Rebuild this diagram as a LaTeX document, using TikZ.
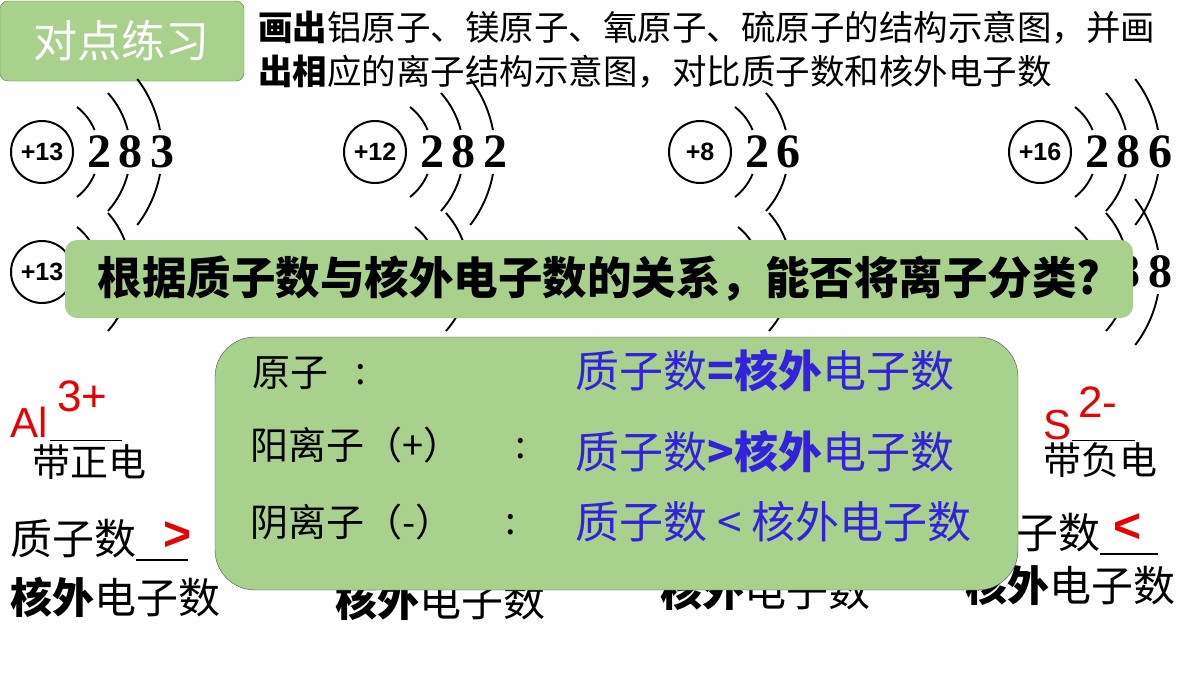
\documentclass[tikz,border=0pt]{standalone}
\usepackage{fontspec}
\setmainfont{Noto Sans CJK SC}
\newfontfamily\numfont{Liberation Serif}
\newfontfamily\latin{Liberation Sans}
\usetikzlibrary{calc}
\definecolor{boxgreen}{RGB}{169,209,142}
\definecolor{edgegreen}{RGB}{84,130,53}
\definecolor{inkblue}{RGB}{51,34,221}
\definecolor{ionred}{RGB}{230,0,0}
\newcommand{\fs}[1]{\fontsize{#1}{#1}\selectfont}
\newcommand{\atomsketch}[4]{% name, position, charge, shells
  \node[nucleus] (#1) at (#2) {#3};
  \foreach \d [count=\i] in {#4} {
    \pgfmathsetmacro{\R}{57+31.5*(\i-1)}
    \pgfmathsetmacro{\up}{asin((45+14*(\i-1))/\R)}
    \pgfmathsetmacro{\gap}{asin(22/\R)}
    \draw[shell] (#1.center) ++(\up:\R) arc (\up:\gap:\R);
    \draw[shell] (#1.center) ++(-\gap:\R) arc (-\gap:-\up:\R);
    \node[digit] (#1-\i) at ($(#1.center)+(\R,0)$) {\d};
  }}
\tikzset{
  nucleus/.style={circle,draw,line width=2pt,minimum size=62pt,inner sep=0pt,font=\latin\bfseries\fs{25}},
  shell/.style={line width=1.9pt},
  digit/.style={inner sep=0pt,font=\numfont\bfseries\fs{48}},
  plain/.style={anchor=west,inner sep=0pt,font=\fs{42}},
}
\begin{document}
\begin{tikzpicture}[x=1pt,y=-1pt]
\useasboundingbox (0,0) rectangle (1200,675);

% heading
\node[draw=edgegreen,fill=boxgreen,rounded corners=8pt,minimum width=244pt,minimum height=80pt,
  font=\fs{44},text=white] (title) at (122,41) {对点练习};
\node[plain,font=\fs{34.5}] (task1) at (258,28) {\textbf{画出}铝原子、镁原子、氧原子、硫原子的结构示意图，并画};
\node[plain,font=\fs{34.5}] (task2) at (258,72) {\textbf{出相}应的离子结构示意图，对比质子数和核外电子数};

% atoms
\atomsketch{Al}{42,152}{+13}{2,8,3}
\atomsketch{Mg}{375,152}{+12}{2,8,2}
\atomsketch{O}{700,152}{+8}{2,6}
\atomsketch{S}{1040,152}{+16}{2,8,6}

% ions
\atomsketch{Alion}{42,272}{+13}{2,8}
\atomsketch{Mgion}{380,272}{+12}{2,8}
\atomsketch{Oion}{703,272}{+8}{2,8}
\atomsketch{Sion}{1040,272}{+16}{2,8,8}

% left column
\node[plain,text=ionred,font=\latin\fs{42}] (Al3) at (10,422) {Al};
\node[anchor=west,inner sep=0pt,text=ionred,font=\latin\fs{44}] (Alsup) at (57,396) {3+};
\draw[thick] (50,440) -- (122,440);
\node[plain,font=\fs{38}] (Alcharge) at (32,462) {带正电};
\node[plain] (Alp) at (10,540) {质子数\rule[-6pt]{52pt}{1.2pt}};
\node[anchor=west,inner sep=0pt,text=ionred,font=\latin\bfseries\fs{48}] (Algt) at (163,536) {>};
\node[plain] (Ale) at (10,597) {\textbf{核外}电子数};

% hidden columns
\node[plain] (Mge) at (335,600) {\textbf{核外}电子数};
\node[plain] (Oe) at (660,590) {\textbf{核外}电子数};

% right column
\node[plain,text=ionred,font=\latin\fs{42}] (S2) at (1043,425) {S};
\node[anchor=west,inner sep=0pt,text=ionred,font=\latin\fs{44}] (Ssup) at (1078,402) {2-};
\draw[thick] (1072,440) -- (1135,440);
\node[plain,font=\fs{38}] (Scharge) at (1043,460) {带负电};
\node[plain] (Sp) at (974,534) {质子数\rule[-6pt]{58pt}{1.2pt}};
\node[anchor=west,inner sep=0pt,text=ionred,font=\latin\bfseries\fs{48}] (Slt) at (1113,528) {<};
\node[plain] (Se) at (965,585) {\textbf{核外}电子数};

% question banner
\node[fill=boxgreen,rounded corners=12pt,minimum width=1068pt,minimum height=78pt,
  font=\bfseries\fs{44.5}] (question) at (599,279) {根据质子数与核外电子数的关系，能否将离子分类?};

% summary box
\node[draw=black!70,fill=boxgreen,rounded corners=40pt,minimum width=803pt,minimum height=253pt] (summary) at (616.5,463.5) {};
\node[plain,font=\fs{38}] (atomrow) at (252,373) {原子};
\node[plain,font=\fs{38}] (catrow) at (250,445) {阳离子（+）};
\node[plain,font=\fs{38}] (anrow) at (250,522) {阴离子（-）};
\node[plain,font=\fs{38}] (atomcolon) at (355,375) {:};
\node[plain,font=\fs{38}] (catcolon) at (515,449) {:};
\node[plain,font=\fs{38}] (ancolon) at (505,525) {:};
\node[plain,text=inkblue,font=\fs{44}] (atomrule) at (575,371) {质子数\textbf{=核外}电子数};
\node[plain,text=inkblue,font=\fs{44}] (catrule) at (575,452) {质子数\textbf{>核外}电子数};
\node[plain,text=inkblue,font=\fs{44}] (anrule) at (575,522) {质子数 < 核外电子数};

\end{tikzpicture}
\end{document}
